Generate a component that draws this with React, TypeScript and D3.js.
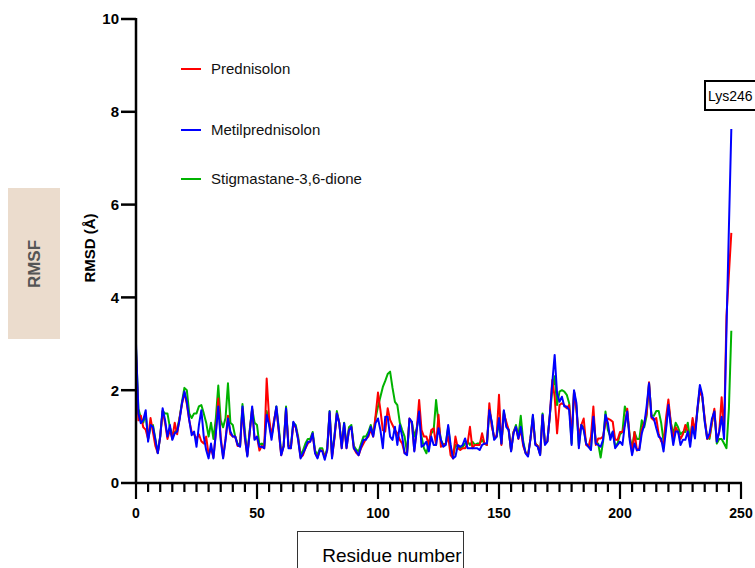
import React from "react";
import * as d3 from "d3";

const seriesNames = ["Prednisolon", "Metilprednisolon", "Stigmastane-3,6-dione"];
const xTicksMajor = [0, 50, 100, 150, 200, 250];
const yTicks = [0, 2, 4, 6, 8, 10];

const prednisolon = [
  2.8, 1.35, 1.45, 1.2, 1.15, 0.95, 1.4, 1.1, 0.8, 0.65, 1.0, 1.55, 1.3, 0.95, 1.15, 0.95, 1.3, 1.05, 1.4, 1.7,
  1.95, 1.7, 1.35, 1.1, 1.05, 0.95, 1.05, 0.9, 0.85, 1.0, 0.6, 0.75, 0.55, 1.1, 1.82, 1.0, 0.55, 0.95, 1.45, 1.05,
  1.0, 1.0, 0.8, 0.8, 1.6, 0.95, 0.6, 1.1, 1.6, 0.95, 1.0,
  0.7, 0.8, 0.75, 2.25, 1.4, 1.0, 1.35, 1.6, 1.1, 0.6, 0.8, 1.6, 0.8, 0.75, 1.25, 1.2, 0.95, 0.55, 0.6, 0.75,
  0.85, 0.9, 1.05, 0.65, 0.55, 0.7, 0.7, 0.55, 0.7, 1.5, 0.55, 0.95, 1.5, 1.3, 0.75, 1.25, 0.75, 1.15, 1.2, 0.75,
  0.65, 0.6, 0.75, 0.85, 0.95, 1.0, 1.15, 1.0, 1.45, 1.95,
  1.57, 1.14, 1.11, 1.61, 1.36, 1.25, 1.14, 1.07, 0.93, 0.85, 0.64, 0.65, 1.39, 1.3, 0.7, 1.15, 1.79, 1.14, 1.0, 1.0,
  0.82, 1.14, 1.18, 0.82, 1.47, 0.78, 0.82, 0.85, 1.0, 0.6, 0.53, 1.0, 0.75, 0.71, 0.75, 0.75, 0.85, 1.21, 0.75, 0.82,
  0.82, 0.82, 1.07, 0.85, 0.82, 1.72, 1.21, 1.0, 1.0, 1.9,
  0.82, 1.5, 1.32, 1.14, 0.7, 1.1, 1.2, 0.95, 1.15, 0.8, 0.65, 0.6, 0.95, 1.39, 0.85, 0.8, 0.62, 1.45, 0.85, 0.9,
  1.45, 2.22, 1.86, 1.07, 1.68, 1.72, 1.68, 1.61, 1.68, 1.0, 1.97, 1.57, 1.0, 1.25, 1.39, 0.82, 0.78, 1.0, 1.65, 0.82,
  0.96, 0.96, 1.0, 1.29, 1.39, 1.36, 1.32, 0.93, 0.93, 1.1,
  1.1, 1.25, 1.6, 1.0, 0.65, 1.1, 0.7, 0.75, 1.15, 1.3, 1.5, 2.17, 1.4, 1.35, 1.4, 1.05, 0.9, 0.85, 1.4, 1.8,
  1.3, 0.95, 1.2, 1.1, 0.95, 1.05, 1.25, 1.1, 0.9, 1.4, 1.1, 1.6, 2.0, 1.85, 1.4, 0.95, 1.0, 1.3, 1.6, 0.9,
  1.1, 1.85, 1.1, 3.6, 4.5, 5.39,
];

const metilprednisolon = [
  3.0, 1.5, 1.29, 1.36, 1.57, 0.89, 1.25, 1.21, 0.93, 0.64, 1.0, 1.61, 1.36, 1.0, 1.25, 0.93, 1.07, 1.11, 1.36, 1.72,
  1.97, 1.75, 1.36, 1.03, 1.11, 0.78, 1.25, 1.57, 1.0, 0.71, 0.53, 0.85, 0.53, 1.07, 1.65, 0.93, 0.53, 0.93, 1.39, 1.11,
  1.0, 1.0, 0.82, 0.78, 1.65, 1.0, 0.57, 1.1, 1.65, 0.93, 1.0,
  0.78, 0.78, 0.75, 1.47, 1.25, 0.93, 1.29, 1.65, 1.14, 0.6, 0.78, 1.61, 0.75, 0.75, 1.32, 1.21, 0.93, 0.53, 0.64, 0.75,
  0.89, 0.89, 1.07, 0.64, 0.53, 0.71, 0.68, 0.5, 0.71, 1.54, 0.53, 1.0, 1.5, 1.29, 0.75, 1.29, 0.75, 1.14, 1.21, 0.75,
  0.68, 0.6, 0.78, 0.93, 0.93, 1.03, 1.21, 1.0, 1.29, 1.39,
  1.14, 0.75, 1.43, 1.43, 1.0, 0.93, 1.21, 0.82, 1.25, 1.0, 0.64, 0.6, 1.39, 1.32, 0.68, 1.14, 1.54, 0.78, 0.82, 0.89,
  0.68, 1.0, 0.82, 0.82, 1.18, 0.93, 0.78, 0.82, 1.25, 0.82, 0.53, 0.57, 0.82, 0.78, 0.82, 0.96, 0.75, 0.75, 0.75, 0.75,
  0.75, 0.71, 0.82, 0.85, 0.85, 1.57, 1.32, 0.93, 1.0, 1.4,
  0.85, 1.57, 1.21, 1.14, 0.68, 1.07, 1.21, 0.96, 1.21, 0.85, 0.64, 0.57, 0.96, 1.47, 0.82, 0.78, 0.6, 1.47, 0.82, 0.89,
  1.47, 2.15, 2.76, 1.93, 1.75, 1.86, 1.65, 1.65, 1.57, 0.82, 2.0, 1.72, 0.75, 1.25, 1.14, 0.85, 0.78, 0.71, 1.43, 0.85,
  0.82, 0.78, 0.93, 1.47, 1.29, 0.93, 1.11, 0.75, 0.82, 0.89,
  0.82, 1.25, 1.54, 0.93, 0.6, 0.85, 0.71, 0.71, 1.07, 1.25, 1.65, 2.15, 1.43, 1.39, 1.18, 1.0, 0.96, 0.68, 1.14, 1.68,
  1.21, 0.82, 1.11, 1.11, 0.82, 0.93, 0.93, 1.11, 0.78, 1.21, 0.96, 1.61, 2.11, 1.9, 1.32, 0.96, 1.07, 1.39, 1.54, 0.89,
  1.11, 1.43, 0.95, 3.3, 5.5, 7.63,
];

const stigmastane = [
  2.9, 1.6, 1.4, 1.3, 1.5, 0.95, 1.2, 1.25, 0.95, 0.65, 1.0, 1.55, 1.5, 1.5, 1.2, 1.05, 1.1, 1.15, 1.4, 1.75,
  2.05, 2.0, 1.5, 1.4, 1.5, 1.5, 1.65, 1.68, 1.5, 1.3, 1.0, 1.3, 0.95, 1.4, 2.1, 1.35, 1.2, 1.4, 2.15, 1.3,
  1.25, 1.0, 0.85, 0.8, 1.7, 1.1, 0.6, 1.15, 1.6, 1.3, 1.25,
  0.82, 0.85, 0.8, 1.55, 1.3, 1.0, 1.3, 1.65, 1.2, 0.65, 0.8, 1.65, 0.8, 0.8, 1.3, 1.25, 1.0, 0.6, 0.7, 0.85,
  0.95, 0.95, 1.1, 0.7, 0.6, 0.75, 0.75, 0.55, 0.75, 1.55, 0.6, 1.0, 1.55, 1.3, 0.8, 1.3, 0.8, 1.2, 1.25, 0.8,
  0.72, 0.68, 0.85, 1.0, 1.0, 1.1, 1.25, 1.05, 1.4, 1.65,
  1.86, 2.07, 2.2, 2.35, 2.4, 2.05, 1.75, 1.68, 1.3, 1.14, 1.0, 0.65, 1.36, 1.32, 1.0, 1.18, 1.47, 1.0, 0.75, 0.64,
  0.85, 1.07, 1.14, 1.79, 1.29, 0.93, 0.82, 0.85, 1.21, 0.78, 0.57, 0.82, 0.78, 0.75, 0.78, 0.85, 0.9, 0.82, 0.89, 0.82,
  0.85, 0.85, 0.93, 0.85, 0.82, 1.57, 1.3, 0.95, 1.0, 1.3,
  0.85, 1.55, 1.25, 1.15, 0.7, 1.1, 1.25, 1.0, 1.45, 0.9, 0.65, 0.6, 0.95, 1.45, 0.85, 0.8, 0.62, 1.5, 0.85, 0.9,
  1.45, 2.0, 2.3, 1.68, 1.97, 2.0, 1.97, 1.9, 1.72, 0.85, 1.97, 1.65, 0.8, 1.25, 1.2, 0.85, 0.8, 0.75, 1.45, 0.88,
  0.85, 0.55, 0.89, 1.54, 1.14, 1.0, 1.1, 0.8, 0.85, 1.05,
  1.1, 1.65, 1.5, 1.0, 0.75, 1.1, 0.95, 0.95, 1.35, 1.2, 1.45, 2.15, 1.45, 1.45, 1.55, 1.55, 1.3, 0.9, 1.2, 1.7,
  1.3, 1.05, 1.3, 1.2, 1.05, 1.1, 1.1, 1.3, 0.9, 1.35, 1.1, 1.55, 2.05, 1.85, 1.35, 1.0, 0.95, 1.3, 1.55, 0.85,
  0.95, 0.95, 0.85, 0.75, 1.6, 3.28,
];

const colors = ["#ff0000", "#0000ff", "#00b300"];
const FONT = "'Liberation Sans', Arial, sans-serif";

export default function App() {
  const x = d3.scaleLinear().domain([0, 250]).range([136, 741]);
  const y = d3.scaleLinear().domain([0, 10]).range([483, 19]);
  const line = d3
    .line<number>()
    .x((_, i) => x(i))
    .y((d) => y(d));

  const minorTicks = d3.range(0, 251, 5);
  const legendY = [69, 130, 179];
  const data = [prednisolon, metilprednisolon, stigmastane];
  const drawOrder = [2, 0, 1];

  return (
    <svg
      width={755}
      height={568}
      style={{ position: "absolute", left: 0, top: 0, background: "#fff" }}
      fontFamily={FONT}
    >
      <rect x={0} y={0} width={755} height={568} fill="#fff" />
      {/* RMSF side box */}
      <rect x={8} y={188} width={52} height={151} fill="#ebdccd" />
      <text
        transform="translate(40,264) rotate(-90)"
        textAnchor="middle"
        fontSize={17}
        fontWeight="bold"
        fill="#555555"
      >
        RMSF
      </text>
      {/* y axis title */}
      <text
        transform="translate(95,248) rotate(-90)"
        textAnchor="middle"
        fontSize={15}
        fontWeight="bold"
        fill="#000"
      >
        RMSD (Å)
      </text>

      {/* series */}
      {drawOrder.map((k) => (
        <path
          key={k}
          d={line(data[k]) || ""}
          fill="none"
          stroke={colors[k]}
          strokeWidth={2}
          strokeLinejoin="round"
        />
      ))}

      {/* y axis */}
      <line x1={x(0)} x2={x(0)} y1={y(10) - 1} y2={y(0) + 1} stroke="#000" strokeWidth={2.5} />
      {yTicks.map((t) => (
        <g key={t}>
          <line x1={121} x2={x(0)} y1={y(t)} y2={y(t)} stroke="#000" strokeWidth={2.5} />
          <text
            x={119}
            y={y(t)}
            dy="0.36em"
            textAnchor="end"
            fontSize={15}
            fontWeight="bold"
          >
            {t}
          </text>
        </g>
      ))}

      {/* x axis */}
      <line x1={x(0) - 1} x2={x(250) + 1} y1={y(0)} y2={y(0)} stroke="#000" strokeWidth={2.5} />
      {minorTicks.map((t) => (
        <line
          key={t}
          x1={x(t)}
          x2={x(t)}
          y1={y(0)}
          y2={xTicksMajor.includes(t) ? y(0) + 16 : y(0) + 9}
          stroke="#000"
          strokeWidth={2.2}
        />
      ))}
      {xTicksMajor.map((t) => (
        <text key={t} x={x(t)} y={518} textAnchor="middle" fontSize={14} fontWeight="bold">
          {t}
        </text>
      ))}

      {/* legend */}
      {seriesNames.map((n, i) => (
        <g key={n}>
          <line x1={181} x2={201} y1={legendY[i]} y2={legendY[i]} stroke={colors[i]} strokeWidth={2} />
          <text x={211} y={legendY[i]} dy="0.35em" fontSize={15} fill="#111">
            {n}
          </text>
        </g>
      ))}

      {/* Lys246 annotation */}
      <rect x={705} y={81} width={70} height={29} fill="#fff" stroke="#000" strokeWidth={2} />
      <text x={708} y={101} fontSize={14} fill="#000">
        Lys246
      </text>

      {/* Residue number box */}
      <rect x={297.5} y={531.5} width={166} height={50} fill="#fff" stroke="#333" strokeWidth={1} />
      <text x={392} y={562} textAnchor="middle" fontSize={19} fill="#000">
        Residue number
      </text>
    </svg>
  );
}
